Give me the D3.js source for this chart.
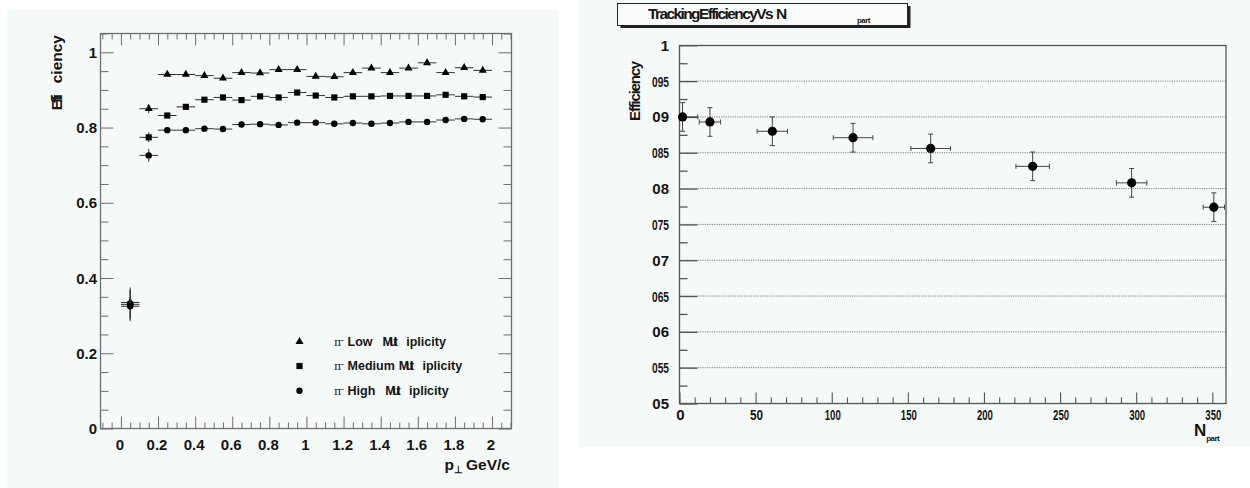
<!DOCTYPE html>
<html>
<head>
<meta charset="utf-8">
<script src="https://cdn.jsdelivr.net/npm/d3@7"></script>
<style>
  html, body { margin: 0; padding: 0; background: #ffffff; }
  svg { display: block; font-family: "Liberation Sans", Arial, sans-serif; }
</style>
</head>
<body>
<svg id="chart" width="1250" height="488"></svg>
<script>
// ---------------- Data: left panel (efficiency vs pT) ----------------
const ptBins = [0.05, 0.15, 0.25, 0.35, 0.45, 0.55, 0.65, 0.75, 0.85, 0.95,
                1.05, 1.15, 1.25, 1.35, 1.45, 1.55, 1.65, 1.75, 1.85, 1.95];
const ptHalfWidth = 0.05;
const lowMult  = [0.335, 0.850, 0.941, 0.941, 0.938, 0.931, 0.946, 0.945, 0.954, 0.954,
                  0.936, 0.935, 0.946, 0.958, 0.946, 0.958, 0.972, 0.946, 0.959, 0.952];
const medMult  = [0.330, 0.774, 0.832, 0.855, 0.874, 0.880, 0.873, 0.883, 0.880, 0.893,
                  0.885, 0.880, 0.883, 0.883, 0.884, 0.884, 0.884, 0.887, 0.883, 0.881];
const highMult = [0.325, 0.726, 0.793, 0.793, 0.797, 0.796, 0.808, 0.809, 0.807, 0.813,
                  0.813, 0.810, 0.812, 0.810, 0.812, 0.815, 0.815, 0.820, 0.823, 0.822];
const lowErr   = [0.040, 0.012, 0.005, 0.005, 0.005, 0.005, 0.005, 0.005, 0.005, 0.005,
                  0.005, 0.005, 0.005, 0.005, 0.005, 0.005, 0.005, 0.005, 0.005, 0.005];
const medErr   = [0.040, 0.013, 0.005, 0.005, 0.005, 0.005, 0.005, 0.005, 0.005, 0.005,
                  0.005, 0.005, 0.005, 0.005, 0.005, 0.005, 0.005, 0.005, 0.005, 0.005];
const highErr  = [0.040, 0.017, 0.005, 0.005, 0.005, 0.005, 0.005, 0.005, 0.005, 0.005,
                  0.005, 0.005, 0.005, 0.005, 0.005, 0.005, 0.005, 0.005, 0.005, 0.005];
const seriesNames = ["Low", "Medium", "High"];
const leftXTickValues = [0, 0.2, 0.4, 0.6, 0.8, 1, 1.2, 1.4, 1.6, 1.8, 2];
const leftXTickLabels = ["0", "0.2", "0.4", "0.6", "0.8", "1", "1.2", "1.4", "1.6", "1.8", "2"];
const leftYTickValues = [0, 0.2, 0.4, 0.6, 0.8, 1];
const leftYTickLabels = ["0", "0.2", "0.4", "0.6", "0.8", "1"];

// ---------------- Data: right panel (efficiency vs Npart) ----------------
const npart    = [2, 20, 61, 114, 165, 232, 297, 351];
const npartErr = [10, 7, 10, 13, 13, 11, 10, 7];
const effN     = [0.900, 0.893, 0.880, 0.871, 0.856, 0.831, 0.808, 0.774];
const effNErr  = [0.020, 0.020, 0.020, 0.020, 0.020, 0.020, 0.020, 0.020];
const rightXTickValues = [0, 50, 100, 150, 200, 250, 300, 350];
const rightXTickLabels = ["0", "50", "100", "150", "200", "250", "300", "350"];
const rightYTickValues = [0.5, 0.55, 0.6, 0.65, 0.7, 0.75, 0.8, 0.85, 0.9, 0.95, 1];
const rightYTickLabels = ["05", "055", "06", "065", "07", "075", "08", "085", "09", "095", "1"];

// ---------------- Drawing ----------------
const svg = d3.select("#chart");
const panelFill = "#f5f9f7";
const axisCol = "#6e6e6e";
const txtCol = "#151515";

svg.append("rect").attr("x", 7).attr("y", 10).attr("width", 552).attr("height", 478).attr("fill", panelFill);
svg.append("rect").attr("x", 579).attr("y", 0).attr("width", 671).attr("height", 447).attr("fill", panelFill);

// ===== LEFT PANEL =====
const L = {left: 100.5, right: 511.5, top: 33.5, bottom: 428.5};
const xL = d3.scaleLinear().domain([-0.11, 2.105]).range([L.left, L.right]);
const yL = d3.scaleLinear().domain([0, 1.05]).range([L.bottom, L.top]);
const gL = svg.append("g");

const xMinorL = d3.range(-0.1, 2.101, 0.05).map(v => +v.toFixed(2));
const yMinorL = d3.range(0, 1.051, 0.05).map(v => +v.toFixed(2));
const isMajor = v => Math.abs(v * 5 - Math.round(v * 5)) < 1e-6;

gL.append("g").attr("transform", `translate(0,${L.bottom})`)
  .call(d3.axisBottom(xL).tickValues(xMinorL).tickSize(0).tickFormat(""))
  .call(g => g.select(".domain").remove())
  .call(g => g.selectAll(".tick line").attr("y2", d => isMajor(d) ? -12 : -6).attr("stroke", axisCol));
gL.append("g").attr("transform", `translate(0,${L.top})`)
  .call(d3.axisTop(xL).tickValues(xMinorL).tickSize(0).tickFormat(""))
  .call(g => g.select(".domain").remove())
  .call(g => g.selectAll(".tick line").attr("y2", d => isMajor(d) ? 12 : 6).attr("stroke", axisCol));
gL.append("g").attr("transform", `translate(${L.left},0)`)
  .call(d3.axisLeft(yL).tickValues(yMinorL).tickSize(0).tickFormat(""))
  .call(g => g.select(".domain").remove())
  .call(g => g.selectAll(".tick line").attr("x2", d => isMajor(d) ? 13 : 8).attr("stroke", axisCol));
gL.append("g").attr("transform", `translate(${L.right},0)`)
  .call(d3.axisRight(yL).tickValues(yMinorL).tickSize(0).tickFormat(""))
  .call(g => g.select(".domain").remove())
  .call(g => g.selectAll(".tick line").attr("x2", d => isMajor(d) ? -13 : -8).attr("stroke", axisCol));
gL.append("rect").attr("x", L.left).attr("y", L.top).attr("width", L.right - L.left).attr("height", L.bottom - L.top)
  .attr("fill", "none").attr("stroke", axisCol).attr("stroke-width", 1.3);

gL.append("g").selectAll("text").data(leftXTickValues).join("text")
  .attr("x", d => xL(d) - 1).attr("y", 450)
  .attr("text-anchor", "middle").attr("font-size", 15).attr("font-weight", "bold").attr("fill", txtCol)
  .text((d, i) => leftXTickLabels[i]);
gL.append("g").selectAll("text").data(leftYTickValues).join("text")
  .attr("x", 97).attr("y", d => yL(d) + 5.5)
  .attr("text-anchor", "end").attr("font-size", 15).attr("font-weight", "bold").attr("fill", txtCol)
  .text((d, i) => leftYTickLabels[i]);

const ytL = gL.append("text").attr("transform", "translate(62,35) rotate(-90)")
  .attr("text-anchor", "end").attr("font-size", 15.5).attr("font-weight", "bold").attr("fill", txtCol);
ytL.append("tspan").attr("letter-spacing", -3).text("Effi");
ytL.append("tspan").attr("dx", 14).text("ciency");
const xtL = gL.append("text").attr("x", 510).attr("y", 470)
  .attr("text-anchor", "end").attr("font-size", 15.5).attr("font-weight", "bold").attr("fill", txtCol);
xtL.append("tspan").text("p");
xtL.append("tspan").attr("font-size", 10).attr("dy", 3).text("⊥");
xtL.append("tspan").attr("dy", -3).attr("dx", 3).text("GeV/c");

const leftSeries = [
  {name: seriesNames[0], vals: lowMult, errs: lowErr, shape: d3.symbolTriangle, size: 28},
  {name: seriesNames[1], vals: medMult, errs: medErr, shape: d3.symbolSquare, size: 38},
  {name: seriesNames[2], vals: highMult, errs: highErr, shape: d3.symbolCircle, size: 32}
];
leftSeries.forEach(s => {
  const g = gL.append("g");
  const pts = ptBins.map((x, i) => ({x, y: s.vals[i], e: s.errs[i]}));
  g.selectAll("line.h").data(pts).join("line").attr("class", "h")
    .attr("x1", d => xL(d.x - ptHalfWidth)).attr("x2", d => xL(d.x + ptHalfWidth))
    .attr("y1", d => yL(d.y)).attr("y2", d => yL(d.y)).attr("stroke", "#333").attr("stroke-width", 1);
  g.selectAll("line.v").data(pts).join("line").attr("class", "v")
    .attr("x1", d => xL(d.x)).attr("x2", d => xL(d.x))
    .attr("y1", d => yL(d.y - d.e)).attr("y2", d => yL(d.y + d.e)).attr("stroke", "#333").attr("stroke-width", 1);
  g.selectAll("path").data(pts).join("path")
    .attr("transform", d => `translate(${xL(d.x)},${yL(d.y)})`)
    .attr("d", d3.symbol().type(s.shape).size(s.size)).attr("fill", "#000");
});

// legend
const legY = [341.7, 366, 390.7];
const legGap1 = [10, 4, 10];
leftSeries.forEach((s, i) => {
  gL.append("path").attr("transform", `translate(299.5,${legY[i]})`)
    .attr("d", d3.symbol().type(s.shape).size(s.size)).attr("fill", "#000");
  const t = gL.append("text").attr("x", 334).attr("y", legY[i] + 4)
    .attr("font-size", 12.5).attr("font-weight", "bold").attr("fill", txtCol);
  t.append("tspan").attr("font-weight", "normal").attr("font-family", "DejaVu Serif, serif").attr("font-size", 11).text("π");
  t.append("tspan").attr("font-size", 7).attr("dy", -4).text("-");
  t.append("tspan").attr("dy", 4).attr("dx", 4).text(s.name);
  t.append("tspan").attr("dx", legGap1[i]).attr("letter-spacing", -3.5).text("Mult");
  t.append("tspan").attr("dx", 12).text("iplicity");
});

// ===== RIGHT PANEL =====
const R = {left: 679.5, right: 1226, top: 45.5, bottom: 403.5};
const xR = d3.scaleLinear().domain([0, 359]).range([R.left, R.right]);
const yR = d3.scaleLinear().domain([0.5, 1]).range([R.bottom, 45.3]);
const gR = svg.append("g");

gR.append("g").selectAll("line").data(rightYTickValues.filter(v => v > 0.5 && v < 1)).join("line")
  .attr("x1", R.left).attr("x2", R.right).attr("y1", d => yR(d)).attr("y2", d => yR(d))
  .attr("stroke", "#8a8a8a").attr("stroke-width", 1).attr("stroke-dasharray", "1.3,1");

const yMinorR = d3.range(0.5, 1.0001, 0.025).map(v => +v.toFixed(3));
gR.append("g").attr("transform", `translate(${R.left},0)`)
  .call(d3.axisLeft(yR).tickValues(yMinorR).tickSize(0).tickFormat(""))
  .call(g => g.select(".domain").remove())
  .call(g => g.selectAll(".tick line")
    .attr("x2", d => Math.abs(d * 20 - Math.round(d * 20)) < 1e-6 ? 18 : 8).attr("stroke", "#555").attr("stroke-width", 1.3));
const xMinorR = d3.range(0, 351, 10);
gR.append("g").attr("transform", `translate(0,${R.bottom})`)
  .call(d3.axisBottom(xR).tickValues(xMinorR).tickSize(0).tickFormat(""))
  .call(g => g.select(".domain").remove())
  .call(g => g.selectAll(".tick line")
    .attr("y2", d => d % 50 === 0 ? -11 : -6).attr("stroke", "#555").attr("stroke-width", 1.1));
gR.append("rect").attr("x", R.left).attr("y", R.top).attr("width", R.right - R.left).attr("height", R.bottom - R.top)
  .attr("fill", "none").attr("stroke", "#555").attr("stroke-width", 1.3);

// cramped (ROOT-like) tick labels: squeeze glyphs into a narrow width
gR.append("g").selectAll("text").data(rightYTickValues).join("text")
  .attr("x", 669).attr("y", d => yR(d) + 5.5)
  .attr("text-anchor", "end").attr("font-size", 15).attr("font-weight", "bold").attr("fill", txtCol)
  .each(function(d, i) {
    const lab = rightYTickLabels[i];
    const t = d3.select(this).text(lab);
    if (lab.length > 2) t.attr("textLength", 17).attr("lengthAdjust", "spacingAndGlyphs");
  });
gR.append("g").selectAll("text").data(rightXTickValues).join("text")
  .attr("x", d => xR(d) + 1).attr("y", 420)
  .attr("text-anchor", "middle").attr("font-size", 15).attr("font-weight", "bold").attr("fill", txtCol)
  .each(function(d, i) {
    const lab = rightXTickLabels[i];
    const t = d3.select(this).text(lab);
    if (lab.length > 1) t.attr("textLength", lab.length > 2 ? 16 : 13).attr("lengthAdjust", "spacingAndGlyphs");
  });

gR.append("text").attr("transform", "translate(640,62) rotate(-90)")
  .attr("text-anchor", "end").attr("font-size", 15).attr("font-weight", "bold").attr("fill", txtCol).attr("letter-spacing", -1.2)
  .text("Efficiency");
const xtR = gR.append("text").attr("x", 1194).attr("y", 436).attr("font-size", 17).attr("font-weight", "bold").attr("fill", txtCol);
xtR.append("tspan").text("N");
xtR.append("tspan").attr("font-size", 8).attr("dy", 5).attr("letter-spacing", -0.6).text("part");

gR.append("rect").attr("x", 620.5).attr("y", 6).attr("width", 290).attr("height", 22).attr("fill", "#222");
gR.append("rect").attr("x", 617.5).attr("y", 3.5).attr("width", 290).attr("height", 22)
  .attr("fill", "#fafcfb").attr("stroke", "#222").attr("stroke-width", 1);
const tt = gR.append("text").attr("x", 648).attr("y", 19).attr("font-size", 15.5).attr("font-weight", "bold").attr("fill", txtCol);
tt.append("tspan").attr("letter-spacing", -1.6).text("TrackingEfficiencyVs");
tt.append("tspan").attr("dx", 4).text("N");
tt.append("tspan").attr("x", 857).attr("y", 23).attr("font-size", 8).attr("letter-spacing", -0.6).text("part");

svg.append("clipPath").attr("id", "clipR").append("rect")
  .attr("x", R.left).attr("y", R.top).attr("width", R.right - R.left).attr("height", R.bottom - R.top);
const gd = gR.append("g").attr("clip-path", "url(#clipR)");
const ptsR = npart.map((x, i) => ({x, y: effN[i], ex: npartErr[i], ey: effNErr[i]}));
const errCol = "#444";
const cap = 2.5;
ptsR.forEach(d => {
  const cx = xR(d.x), cy = yR(d.y);
  const x1 = xR(d.x - d.ex), x2 = xR(d.x + d.ex), y1 = yR(d.y - d.ey), y2 = yR(d.y + d.ey);
  gd.append("line").attr("x1", x1).attr("x2", x2).attr("y1", cy).attr("y2", cy).attr("stroke", errCol);
  gd.append("line").attr("x1", cx).attr("x2", cx).attr("y1", y1).attr("y2", y2).attr("stroke", errCol);
  gd.append("line").attr("x1", x1).attr("x2", x1).attr("y1", cy - cap).attr("y2", cy + cap).attr("stroke", errCol);
  gd.append("line").attr("x1", x2).attr("x2", x2).attr("y1", cy - cap).attr("y2", cy + cap).attr("stroke", errCol);
  gd.append("line").attr("x1", cx - cap).attr("x2", cx + cap).attr("y1", y1).attr("y2", y1).attr("stroke", errCol);
  gd.append("line").attr("x1", cx - cap).attr("x2", cx + cap).attr("y1", y2).attr("y2", y2).attr("stroke", errCol);
});
gR.append("g").selectAll("circle").data(ptsR).join("circle")
  .attr("cx", d => xR(d.x)).attr("cy", d => yR(d.y)).attr("r", 4.6).attr("fill", "#000");
</script>
</body>
</html>
